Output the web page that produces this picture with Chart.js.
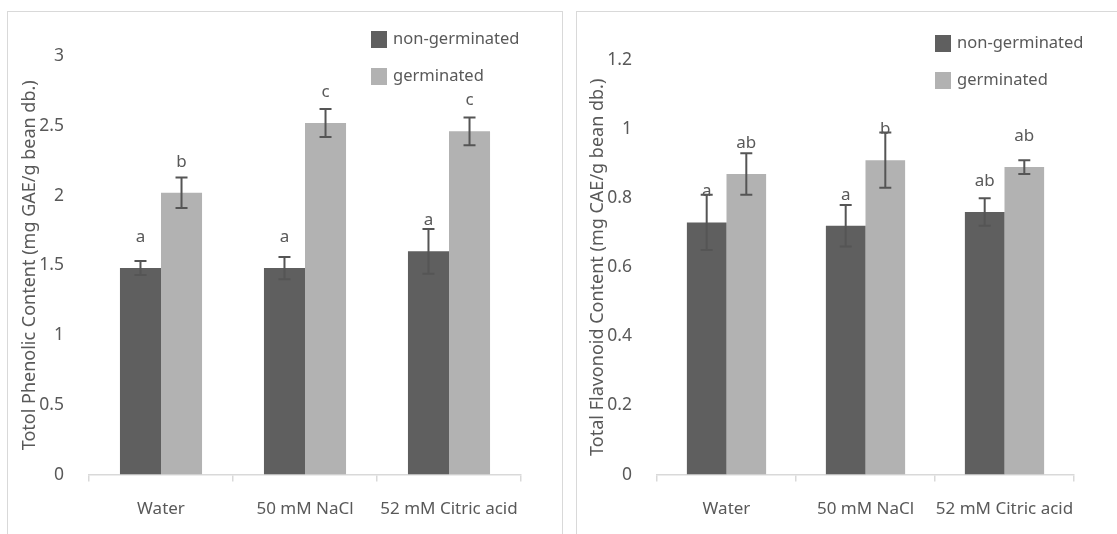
<!DOCTYPE html>
<html lang="en">
  <head>
    <meta charset="UTF-8" />
    <title>Phenolic and flavonoid content</title>
    <script src="https://cdn.jsdelivr.net/npm/chart.js"></script>
    <style>
      html, body { margin: 0; padding: 0; background: #fff; overflow: hidden; }
      body { width: 1117px; height: 534px; position: relative; }
      .box { position: absolute; top: 11px; border: 1px solid #d9d9d9; border-bottom: none; background: #fff; overflow: hidden; }
      #leftBox { left: 7px; width: 554px; height: 526px; }
      #rightBox { left: 576px; width: 553px; height: 526px; }
    </style>
  </head>
  <body>
    <div class="box" id="leftBox"><canvas id="phenolChart"></canvas></div>
    <div class="box" id="rightBox"><canvas id="flavChart"></canvas></div>

    <script>
      const categories = ["Water", "50 mM NaCl", "52 mM Citric acid"];
      const seriesNames = ["non-germinated", "germinated"];

      // Total phenolic content
      const phenolNon = [1.48, 1.48, 1.6];
      const phenolGerm = [2.02, 2.52, 2.46];
      const phenolNonErr = [0.05, 0.08, 0.16];
      const phenolGermErr = [0.11, 0.1, 0.1];
      const phenolNonLetters = ["a", "a", "a"];
      const phenolGermLetters = ["b", "c", "c"];

      // Total flavonoid content
      const flavNon = [0.73, 0.72, 0.76];
      const flavGerm = [0.87, 0.91, 0.89];
      const flavNonErr = [0.08, 0.06, 0.04];
      const flavGermErr = [0.06, 0.08, 0.02];
      const flavNonLetters = ["a", "a", "ab"];
      const flavGermLetters = ["ab", "b", "ab"];

      const textColor = "#595959";
      const fontFamily = "'Noto Sans', sans-serif";

      // error bars, letters and legend drawn on top of the bars
      const extras = {
        id: "extras",
        afterDatasetsDraw(chart, args, opts) {
          const ctx = chart.ctx;
          const y = chart.scales.y;
          ctx.save();
          chart.data.datasets.forEach((ds, di) => {
            const meta = chart.getDatasetMeta(di);
            meta.data.forEach((bar, i) => {
              const v = ds.data[i];
              const e = ds.errors[i];
              const top = y.getPixelForValue(v + e);
              const bot = y.getPixelForValue(v - e);
              ctx.strokeStyle = "#555555";
              ctx.lineWidth = 2;
              ctx.beginPath();
              ctx.moveTo(bar.x, top);
              ctx.lineTo(bar.x, bot);
              ctx.moveTo(bar.x - 6, top);
              ctx.lineTo(bar.x + 6, top);
              ctx.moveTo(bar.x - 6, bot);
              ctx.lineTo(bar.x + 6, bot);
              ctx.stroke();

              ctx.fillStyle = textColor;
              ctx.font = "17px " + fontFamily;
              ctx.textAlign = "center";
              ctx.textBaseline = "middle";
              ctx.fillText(ds.letters[i], bar.x, bar.y - 31);
            });
          });

          // legend
          ctx.font = "16.5px " + fontFamily;
          ctx.textAlign = "left";
          ctx.textBaseline = "alphabetic";
          chart.data.datasets.forEach((ds, di) => {
            const lx = opts.x;
            const ly = opts.y + di * 37;
            ctx.fillStyle = ds.backgroundColor;
            ctx.fillRect(lx, ly, 16, 17);
            ctx.fillStyle = textColor;
            ctx.fillText(ds.label, lx + 22, ly + 13);
          });
          ctx.restore();
        },
      };

      function makeChart(id, nonVals, germVals, nonErr, germErr, nonLet, germLet, yMax, yStep, yTitle, pad, legendPos) {
        const ctx = document.getElementById(id).getContext("2d");
        return new Chart(ctx, {
          type: "bar",
          data: {
            labels: categories,
            datasets: [
              {
                label: seriesNames[0],
                data: nonVals,
                errors: nonErr,
                letters: nonLet,
                backgroundColor: "#5f5f5f",
                borderWidth: 0,
              },
              {
                label: seriesNames[1],
                data: germVals,
                errors: germErr,
                letters: germLet,
                backgroundColor: "#b2b2b2",
                borderWidth: 0,
              },
            ],
          },
          options: {
            responsive: false,
            animation: false,
            devicePixelRatio: 1,
            layout: { padding: pad },
            datasets: { bar: { categoryPercentage: 0.57, barPercentage: 1.0 } },
            plugins: {
              legend: { display: false },
              tooltip: { enabled: false },
              extras: legendPos,
            },
            scales: {
              x: {
                grid: {
                  drawOnChartArea: false,
                  drawTicks: true,
                  tickLength: 7,
                  color: "#d9d9d9",
                  lineWidth: 1.5,
                },
                border: { display: true, color: "#d9d9d9", width: 1.5 },
                ticks: {
                  color: textColor,
                  font: { family: fontFamily, size: 17 },
                  padding: 17,
                  maxRotation: 0,
                  autoSkip: false,
                },
              },
              y: {
                min: 0,
                max: yMax,
                afterFit(scale) {
                  scale.width = 80;
                },
                grid: { display: false, drawTicks: false },
                border: { display: false },
                ticks: {
                  stepSize: yStep,
                  color: textColor,
                  font: { family: fontFamily, size: 17.5 },
                  padding: 25,
                  callback: (v) => String(+v.toFixed(2)),
                },
                title: {
                  display: true,
                  text: yTitle,
                  color: textColor,
                  font: { family: fontFamily, size: 18 },
                  padding: { top: 10, bottom: 0 },
                },
              },
            },
          },
          plugins: [extras],
        });
      }

      function sizeCanvas(id, w, h) {
        const c = document.getElementById(id);
        c.width = w;
        c.height = h;
        c.style.width = w + "px";
        c.style.height = h + "px";
      }

      sizeCanvas("phenolChart", 554, 524);
      sizeCanvas("flavChart", 553, 524);

      makeChart(
        "phenolChart",
        phenolNon, phenolGerm, phenolNonErr, phenolGermErr,
        phenolNonLetters, phenolGermLetters,
        3, 0.5,
        "Totol Phenolic Content (mg GAE/g bean db.)",
        { top: 44, right: 41, bottom: 0, left: 1 },
        { x: 363, y: 19 }
      );

      makeChart(
        "flavChart",
        flavNon, flavGerm, flavNonErr, flavGermErr,
        flavNonLetters, flavGermLetters,
        1.2, 0.2,
        "Total Flavonoid Content (mg CAE/g bean db.)",
        { top: 48, right: 56, bottom: 0, left: 0 },
        { x: 358, y: 23 }
      );
    </script>
  </body>
</html>
